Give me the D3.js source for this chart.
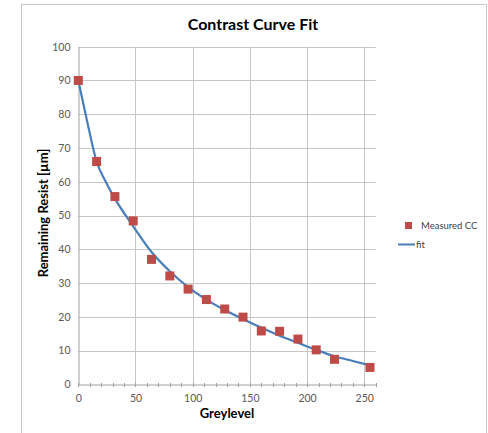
<!DOCTYPE html>
<html>
<head>
<meta charset="utf-8">
<script src="https://cdn.jsdelivr.net/npm/d3@7"></script>
<style>
  html, body { margin: 0; padding: 0; background: #fff; }
  svg { display: block; }
  text { font-family: Lato, "Open Sans", sans-serif; }
</style>
</head>
<body>
<svg id="chart" width="488" height="433"></svg>
<script>
// Measured contrast curve: grey level vs remaining resist thickness
const greyLevels = [0, 16, 32, 48, 64, 80, 96, 112, 128, 144, 160, 176, 192, 208, 224, 255];
const measuredCC = [90, 66, 55.6, 48.4, 37.0, 32.1, 28.2, 25.1, 22.3, 19.9, 15.8, 15.7, 13.4, 10.2, 7.4, 5.0];

// Fitted curve, sampled along the grey-level range
const fitGrey = [0, 8, 16, 24, 32, 48, 64, 80, 96, 112, 128, 144, 160, 176, 192, 208, 224, 240, 255];
const fitValues = [90, 77.5, 66, 60, 55, 46.8, 39.2, 33.5, 28.8, 25.1, 22.0, 19.3, 16.8, 14.4, 12.3, 10.2, 8.3, 6.9, 5.6];

const xTicks = [0, 50, 100, 150, 200, 250];
const yTicks = [0, 10, 20, 30, 40, 50, 60, 70, 80, 90, 100];
const xMinorTicks = d3.range(0, 261, 10);

const svg = d3.select("#chart");

// Outer chart frame
svg.append("rect")
  .attr("x", 21.5).attr("y", 4.5)
  .attr("width", 465).attr("height", 440)
  .attr("fill", "#fff").attr("stroke", "#c8c8c8").attr("stroke-width", 1);

const plot = { left: 78.3, right: 375.7, top: 46.7, bottom: 384.3 };

const x = d3.scaleLinear().domain([0, 260]).range([plot.left, plot.right]);
const y = d3.scaleLinear().domain([0, 100]).range([plot.bottom, plot.top]);

// Horizontal grid lines
svg.append("g")
  .selectAll("line")
  .data(yTicks.filter(d => d > 0))
  .join("line")
  .attr("x1", plot.left).attr("x2", plot.right)
  .attr("y1", d => Math.round(y(d)) + 0.5).attr("y2", d => Math.round(y(d)) + 0.5)
  .attr("stroke", "#c6c6c6").attr("stroke-width", 1);

// Vertical grid lines
svg.append("g")
  .selectAll("line")
  .data(xTicks.filter(d => d > 0))
  .join("line")
  .attr("x1", d => Math.round(x(d)) + 0.5).attr("x2", d => Math.round(x(d)) + 0.5)
  .attr("y1", plot.top).attr("y2", plot.bottom)
  .attr("stroke", "#c6c6c6").attr("stroke-width", 1);

// Axes
const xAxis = d3.axisBottom(x).tickValues(xTicks).tickSize(0).tickPadding(10);
const gx = svg.append("g").attr("transform", `translate(0,${Math.round(plot.bottom) + 0.5})`).call(xAxis);
gx.select(".domain").attr("stroke", "#a0a0a0");
gx.selectAll("text").attr("fill", "#595959").attr("font-size", 10.5)
  .attr("font-family", "Lato, 'Open Sans', sans-serif");

// Minor ticks along the x axis
svg.append("g")
  .selectAll("line")
  .data(xMinorTicks)
  .join("line")
  .attr("x1", d => Math.round(x(d)) + 0.5).attr("x2", d => Math.round(x(d)) + 0.5)
  .attr("y1", Math.round(plot.bottom) - 1).attr("y2", Math.round(plot.bottom) + 3)
  .attr("stroke", "#a0a0a0").attr("stroke-width", 1);

const yAxis = d3.axisLeft(y).tickValues(yTicks).tickSize(0).tickPadding(8);
const gy = svg.append("g").attr("transform", `translate(${Math.round(plot.left) + 0.5},0)`).call(yAxis);
gy.select(".domain").attr("stroke", "#a0a0a0");
gy.selectAll("text").attr("fill", "#595959").attr("font-size", 10.5)
  .attr("font-family", "Lato, 'Open Sans', sans-serif");

// Fit curve
const line = d3.line()
  .x((d, i) => x(fitGrey[i]))
  .y(d => y(d))
  .curve(d3.curveMonotoneX);

svg.append("path")
  .datum(fitValues)
  .attr("d", line)
  .attr("fill", "none")
  .attr("stroke", "#4a7ebb")
  .attr("stroke-width", 2.2);

// Measured points
const ms = 9;
svg.append("g")
  .selectAll("rect")
  .data(measuredCC)
  .join("rect")
  .attr("x", (d, i) => x(greyLevels[i]) - ms / 2)
  .attr("y", d => y(d) - ms / 2)
  .attr("width", ms).attr("height", ms)
  .attr("fill", "#be4b48");

// Title
svg.append("text")
  .attr("x", 253).attr("y", 30)
  .attr("text-anchor", "middle")
  .attr("font-size", 16).attr("font-weight", "bold").attr("fill", "#000")
  .text("Contrast Curve Fit");

// Axis titles
svg.append("text")
  .attr("x", 227).attr("y", 418)
  .attr("text-anchor", "middle")
  .attr("font-size", 13).attr("font-weight", "bold").attr("fill", "#000")
  .text("Greylevel");

svg.append("text")
  .attr("transform", "translate(48,213) rotate(-90)")
  .attr("text-anchor", "middle")
  .attr("font-size", 13).attr("font-weight", "bold").attr("fill", "#000")
  .text("Remaining Resist [µm]");

// Legend
const legend = svg.append("g");
legend.append("rect")
  .attr("x", 405).attr("y", 222).attr("width", 7).attr("height", 7)
  .attr("fill", "#be4b48");
legend.append("text")
  .attr("x", 421).attr("y", 229)
  .attr("font-size", 9.5).attr("fill", "#404040")
  .text("Measured CC");
legend.append("line")
  .attr("x1", 398).attr("x2", 415).attr("y1", 244.5).attr("y2", 244.5)
  .attr("stroke", "#4a7ebb").attr("stroke-width", 2);
legend.append("text")
  .attr("x", 416).attr("y", 248)
  .attr("font-size", 9.5).attr("fill", "#404040")
  .text("fit");
</script>
</body>
</html>
